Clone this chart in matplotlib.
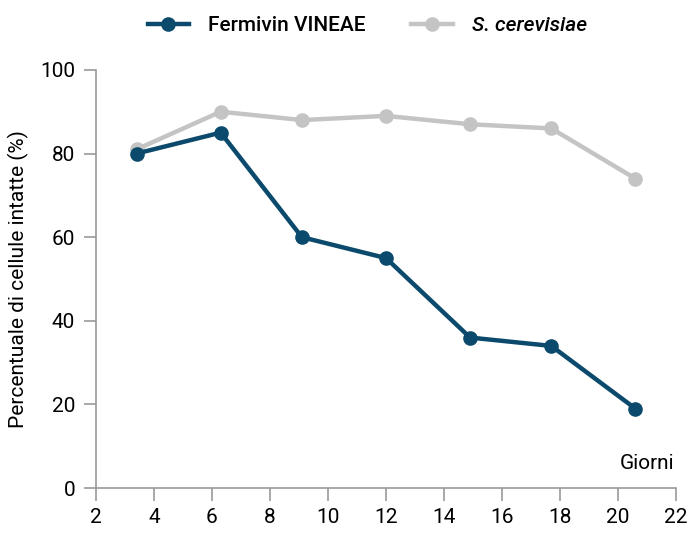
import matplotlib
matplotlib.use('Agg')
import matplotlib.pyplot as plt

plt.rcParams['font.family'] = ['Roboto', 'DejaVu Sans']

# data
giorni = [3.4, 6.3, 9.1, 12.0, 14.9, 17.7, 20.6]
fermivin = [80, 85, 60, 55, 36, 34, 19]
cerevisiae = [81, 90, 88, 89, 87, 86, 74]
x_ticks = [2, 4, 6, 8, 10, 12, 14, 16, 18, 20, 22]
y_ticks = [0, 20, 40, 60, 80, 100]

C_BLUE = '#0b4a6c'
C_GREY = '#c4c4c4'
C_AXIS = '#9a9a9a'

fig = plt.figure(figsize=(6.93, 5.46), dpi=100)
ax = fig.add_axes([0.1385, 0.106, 0.837, 0.766])

ax.plot(giorni, cerevisiae, color=C_GREY, lw=3.2, marker='o', ms=9.5,
        label='S. cerevisiae', zorder=2)
ax.plot(giorni, fermivin, color=C_BLUE, lw=3.2, marker='o', ms=9.5,
        label='Fermivin VINEAE', zorder=3)

ax.set_xlim(2, 22)
ax.set_ylim(0, 100)
ax.set_xticks(x_ticks)
ax.set_yticks(y_ticks)
ax.tick_params(axis='both', colors=C_AXIS, labelcolor='black', labelsize=15,
               length=9, width=1.2)
ax.tick_params(axis='x', pad=5)
ax.tick_params(axis='y', pad=6)

for side in ['top', 'right']:
    ax.spines[side].set_visible(False)
for side in ['left', 'bottom']:
    ax.spines[side].set_color(C_AXIS)
    ax.spines[side].set_linewidth(1.2)

ax.set_ylabel('Percentuale di cellule intatte (%)', fontsize=15, labelpad=8)
ax.text(21.95, 3.5, 'Giorni', ha='right', va='bottom', fontsize=15)

handles, labels = ax.get_legend_handles_labels()
leg = fig.legend(handles[::-1], labels[::-1], loc='upper center',
                 bbox_to_anchor=(0.53, 1.005), ncol=2, frameon=False,
                 prop={'size': 15, 'weight': 'medium'},
                 handlelength=2.0, columnspacing=2.2, handletextpad=0.9)
leg.get_texts()[1].set_style('italic')

fig.savefig('out.png', dpi=100)
